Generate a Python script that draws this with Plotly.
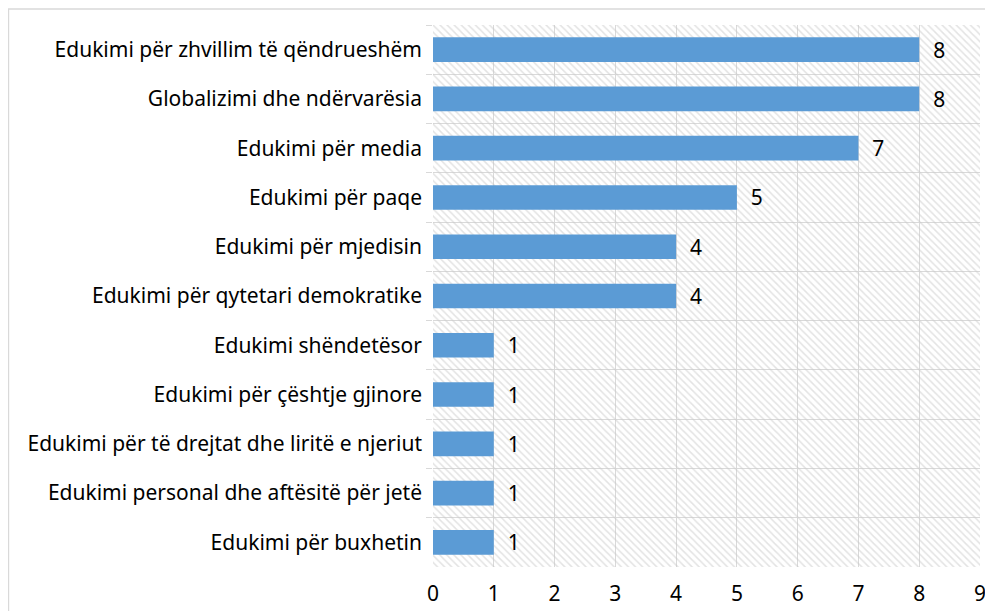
import plotly.graph_objects as go

# categories top to bottom, as shown in the chart
categories = [
    "Edukimi për zhvillim të qëndrueshëm",
    "Globalizimi dhe ndërvarësia",
    "Edukimi për media",
    "Edukimi për paqe",
    "Edukimi për mjedisin",
    "Edukimi për qytetari demokratike",
    "Edukimi shëndetësor",
    "Edukimi për çështje gjinore",
    "Edukimi për të drejtat dhe liritë e njeriut",
    "Edukimi personal dhe aftësitë për jetë",
    "Edukimi për buxhetin",
]
counts = [8, 8, 7, 5, 4, 4, 1, 1, 1, 1, 1]
x_max = 9

grid = "#d9d9d9"
font = dict(family="Noto Sans, Open Sans, sans-serif", size=21, color="#000000")

# page has an 8px body margin, so the figure is drawn at (8, 8)
W, H = 985, 603
L, R, T, B = 425, 13, 17, 44

fig = go.Figure()

# hatched plot-area background
fig.add_trace(go.Bar(
    y=categories, x=[x_max] * len(categories),
    orientation="h", width=1,
    marker=dict(color="rgba(0,0,0,0)", line=dict(width=0),
                pattern=dict(shape="\\", fgcolor="#c8c8c8", bgcolor="rgba(0,0,0,0)",
                             size=5, solidity=0.3)),
    hoverinfo="skip", showlegend=False,
))

fig.add_trace(go.Bar(
    y=categories, x=counts,
    orientation="h", width=0.5,
    marker=dict(color="#5b9bd5", line=dict(width=0)),
    text=counts, texttemplate="  %{text}", textposition="outside", textfont=font,
    constraintext="none", cliponaxis=False, showlegend=False,
))

fig.update_layout(
    width=W, height=H,
    margin=dict(l=L, r=R, t=T, b=B, autoexpand=False),
    paper_bgcolor="white", plot_bgcolor="white",
    barmode="overlay",
    font=font,
    xaxis=dict(range=[0, x_max], dtick=1, showgrid=True, gridcolor=grid, gridwidth=1.3,
               zeroline=False, showline=False, ticks="", ticklabelstandoff=12,
               automargin=False),
    yaxis=dict(autorange="reversed", tickson="boundaries", showgrid=True, gridcolor=grid,
               gridwidth=1.3, ticks="outside", ticklen=6, tickcolor=grid,
               showline=False, ticklabelstandoff=10, automargin=False),
    shapes=[dict(type="rect", xref="paper", yref="paper",
                 x0=-L / (W - L - R) + 0.001, x1=1 + (R + 20) / (W - L - R),
                 y0=-(B + 20) / (H - T - B), y1=1 + (T - 1) / (H - T - B),
                 line=dict(color=grid, width=1.3), layer="below")],
)

fig.write_html("out.html")
